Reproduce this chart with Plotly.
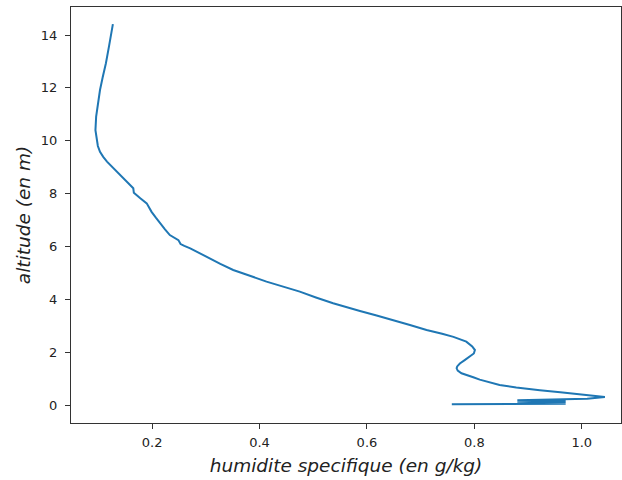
import plotly.graph_objects as go

humidite = [0.758, 0.97, 0.88, 0.97, 0.88, 0.97, 0.88, 0.95, 1.01, 1.043,
            1.015, 0.983, 0.96, 0.922, 0.878, 0.847, 0.826, 0.81, 0.798, 0.786,
            0.776, 0.769, 0.767, 0.768, 0.773, 0.782, 0.792, 0.799, 0.801, 0.796,
            0.785, 0.761, 0.74, 0.711, 0.68, 0.649, 0.618, 0.587, 0.56, 0.537,
            0.505, 0.475, 0.444, 0.413, 0.382, 0.351, 0.327, 0.305, 0.287, 0.271,
            0.26, 0.253, 0.249, 0.241, 0.233, 0.224, 0.215, 0.207, 0.199, 0.190,
            0.178, 0.166, 0.165, 0.162, 0.155, 0.147, 0.139, 0.131, 0.123, 0.116,
            0.109, 0.103, 0.099, 0.097, 0.095, 0.0945, 0.0958, 0.099, 0.103, 0.108,
            0.114, 0.120, 0.127]
altitude = [0.03, 0.05, 0.08, 0.10, 0.13, 0.15, 0.18, 0.21, 0.24, 0.30,
            0.37, 0.44, 0.48, 0.56, 0.66, 0.76, 0.86, 0.96, 1.05, 1.12,
            1.20, 1.30, 1.39, 1.46, 1.57, 1.70, 1.83, 1.95, 2.08, 2.22,
            2.40, 2.58, 2.70, 2.84, 3.03, 3.22, 3.39, 3.56, 3.71, 3.85,
            4.07, 4.29, 4.48, 4.67, 4.89, 5.11, 5.34, 5.58, 5.76, 5.93,
            6.02, 6.09, 6.24, 6.33, 6.43, 6.65, 6.87, 7.09, 7.31, 7.63,
            7.82, 8.03, 8.2, 8.26, 8.42, 8.58, 8.74, 8.89, 9.05, 9.21,
            9.39, 9.58, 9.80, 10.03, 10.2, 10.4, 10.91, 11.4, 11.92, 12.4,
            12.93, 13.6, 14.41]

x_ticks = [0.2, 0.4, 0.6, 0.8, 1.0]
x_ticklabels = ["0.2", "0.4", "0.6", "0.8", "1.0"]
y_ticks = [0, 2, 4, 6, 8, 10, 12, 14]
y_ticklabels = ["0", "2", "4", "6", "8", "10", "12", "14"]

fig = go.Figure()
fig.add_trace(go.Scatter(x=humidite, y=altitude, mode="lines",
                         line=dict(color="#1f77b4", width=2), showlegend=False))

font = dict(family="DejaVu Sans", size=13, color="#222")
title_font = dict(family="DejaVu Sans", size=18.5, color="#222")
fig.update_layout(
    width=622, height=480,
    margin=dict(l=71, r=1, t=7, b=57),
    paper_bgcolor="white", plot_bgcolor="white",
    font=font,
)
fig.update_xaxes(
    range=[0.049, 1.073], tickvals=x_ticks, ticktext=x_ticklabels,
    showgrid=False, zeroline=False, showline=True, mirror=True,
    linecolor="#333", linewidth=1, ticks="outside", ticklen=5, tickcolor="#333",
    tickfont=font, ticklabelstandoff=2,
    title=dict(text="<i>humidite specifique (en g/kg)</i>",
               font=title_font, standoff=10),
)
fig.update_yaxes(
    range=[-0.68, 15.06], tickvals=y_ticks, ticktext=y_ticklabels,
    showgrid=False, zeroline=False, showline=True, mirror=True,
    linecolor="#333", linewidth=1, ticks="outside", ticklen=5, tickcolor="#333",
    tickfont=font, ticklabelstandoff=5,
    title=dict(text="<i>altitude (en m)</i>",
               font=title_font, standoff=5),
)

fig.write_html("out.html")
